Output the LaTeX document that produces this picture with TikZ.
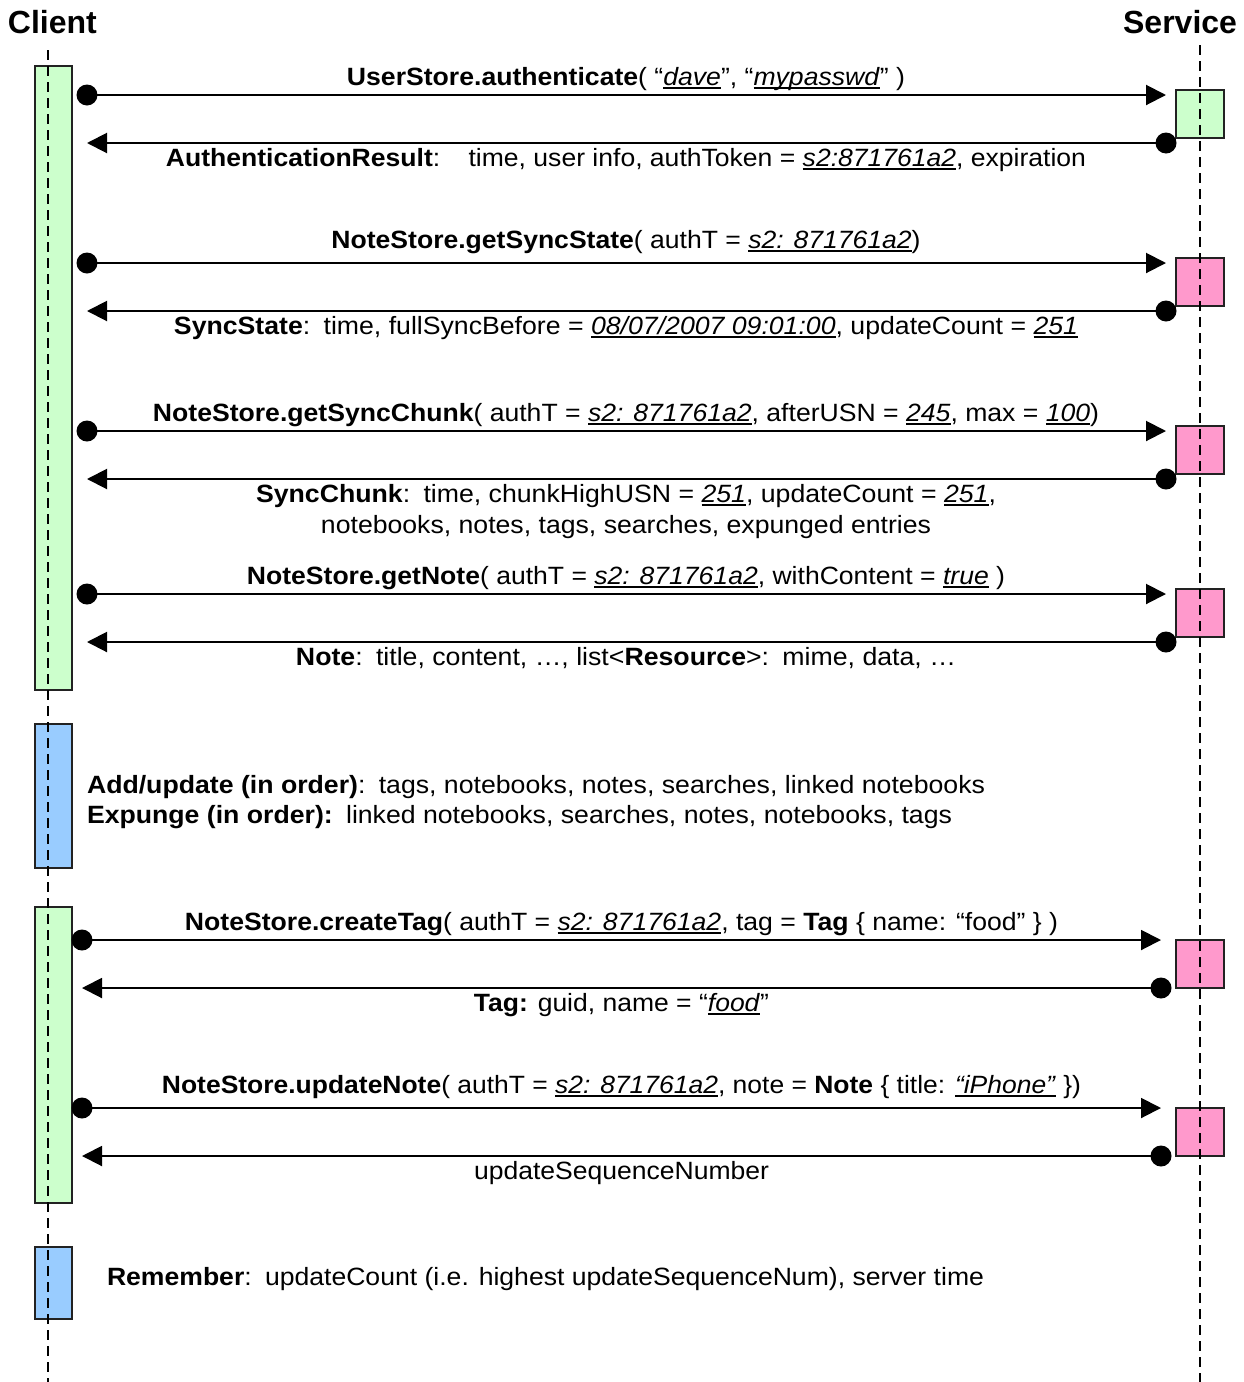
\documentclass[tikz,border=0pt]{standalone}
\usepackage{fontspec}
\setmainfont{Liberation Sans}
\usetikzlibrary{arrows.meta}
\definecolor{actgreen}{HTML}{CCFFCC}
\definecolor{actpink}{HTML}{FF99CC}
\definecolor{actblue}{HTML}{99CCFF}
\definecolor{boxline}{HTML}{222222}
\newcommand{\fitw}[2]{\resizebox{#1pt}{\height}{#2}}
\newcommand{\ul}[1]{\leavevmode\setbox0\hbox{\textit{#1}}\rlap{\rule[-4pt]{\wd0}{1.6pt}}\box0\relax}
\begin{document}
\begin{tikzpicture}[x=1pt,y=-1pt,
  every node/.style={inner sep=0pt, outer sep=0pt, font=\fontsize{25}{30}\selectfont},
  lbl/.style={anchor=base},
  lblw/.style={anchor=base west},
  act/.style={draw=boxline, line width=1.5pt},
  life/.style={line width=2.2pt, dash pattern=on 10pt off 6pt},
  dot/.style={circle, fill=black, minimum size=21pt},
  msg/.style={line width=2pt, -{Triangle[length=20pt,width=20pt]}},
  ttl/.style={anchor=base, font=\fontsize{32}{38}\selectfont\bfseries}]
\useasboundingbox (0,0) rectangle (1243,1382);
% titles
\node[ttl, anchor=base west] (client) at (8,33) {Client};
\node[ttl, anchor=base east] (service) at (1237,33) {Service};
% client activation boxes
\path[act, fill=actgreen] (35,66) rectangle (72,690);
\path[act, fill=actblue] (35,724) rectangle (72,868);
\path[act, fill=actgreen] (35,907) rectangle (72,1203);
\path[act, fill=actblue] (35,1247) rectangle (72,1319);
% service activation boxes
\path[act, fill=actgreen] (1176,90) rectangle (1224,138);
\foreach \t in {258,426,589,940,1108}{
  \path[act, fill=actpink] (1176,\t) rectangle (1224,\t+48);
}
% lifelines
\coordinate (cTop) at (48,50);
\coordinate (cBot) at (48,1382);
\coordinate (sTop) at (1200,45);
\coordinate (sBot) at (1200,1382);
\draw[life] (cTop) -- (cBot);
\draw[life] (sTop) -- (sBot);
% messages
\foreach \i/\y/\cx/\sx in {1/95/87/1166, 2/263/87/1166, 3/431/87/1166, 4/594/87/1166, 5/940/82/1161, 6/1108/82/1161}{
  \node[dot] (cd\i) at (\cx,\y) {};
  \coordinate (st\i) at (\sx,\y);
  \draw[msg] (cd\i.center) -- (st\i);
  \node[dot] (sd\i) at (\sx,\y+48) {};
  \coordinate (ct\i) at (\cx,\y+48);
  \draw[msg] (sd\i.center) -- (ct\i);
}
% labels
\node[lbl] (l1) at (626,85) {\fitw{558}{\textbf{UserStore.authenticate}( “\ul{dave}”, “\ul{mypasswd}” )}};
\node[lbl] (l2) at (626,166) {\fitw{920}{\textbf{AuthenticationResult}:\hspace{0.7em} time, user info, authToken = \ul{s2:871761a2}, expiration}};
\node[lbl] (l3) at (626,248) {\fitw{589}{\textbf{NoteStore.getSyncState}( authT = \ul{s2: 871761a2})}};
\node[lbl] (l4) at (626,334) {\fitw{904}{\textbf{SyncState}:\hspace{0.5em}time, fullSyncBefore = \ul{08/07/2007 09:01:00}, updateCount = \ul{251}}};
\node[lbl] (l5) at (626,421) {\fitw{946}{\textbf{NoteStore.getSyncChunk}( authT = \ul{s2: 871761a2}, afterUSN = \ul{245}, max = \ul{100})}};
\node[lbl] (l6a) at (626,502) {\fitw{740}{\textbf{SyncChunk}:\hspace{0.5em}time, chunkHighUSN = \ul{251}, updateCount = \ul{251},}};
\node[lbl] (l6b) at (626,533) {\fitw{610}{notebooks, notes, tags, searches, expunged entries}};
\node[lbl] (l7) at (626,584) {\fitw{758}{\textbf{NoteStore.getNote}( authT = \ul{s2: 871761a2}, withContent = \ul{true} )}};
\node[lbl] (l8) at (626,665) {\fitw{660}{\textbf{Note}:\hspace{0.5em}title, content, …, list<\textbf{Resource}>:\hspace{0.5em}mime, data, …}};
\node[lblw] (l9a) at (87,793) {\fitw{898}{\textbf{Add/update (in order)}:\hspace{0.5em}tags, notebooks, notes, searches, linked notebooks}};
\node[lblw] (l9b) at (87,823) {\fitw{865}{\textbf{Expunge (in order):}\hspace{0.5em}linked notebooks, searches, notes, notebooks, tags}};
\node[lbl] (l10) at (621.5,930) {\fitw{873}{\textbf{NoteStore.createTag}( authT = \ul{s2: 871761a2}, tag = \textbf{Tag} \{ name: “food” \} )}};
\node[lbl] (l11) at (621.5,1011) {\fitw{295}{\textbf{Tag:} guid, name = “\ul{food}”}};
\node[lbl] (l12) at (621.5,1093) {\fitw{919}{\textbf{NoteStore.updateNote}( authT = \ul{s2: 871761a2}, note = \textbf{Note} \{ title: \ul{“iPhone”} \})}};
\node[lbl] (l13) at (621.5,1179) {\fitw{295}{updateSequenceNumber}};
\node[lblw] (l14) at (107,1285) {\fitw{877}{\textbf{Remember}:\hspace{0.5em}updateCount (i.e. highest updateSequenceNum), server time}};
\end{tikzpicture}
\end{document}
